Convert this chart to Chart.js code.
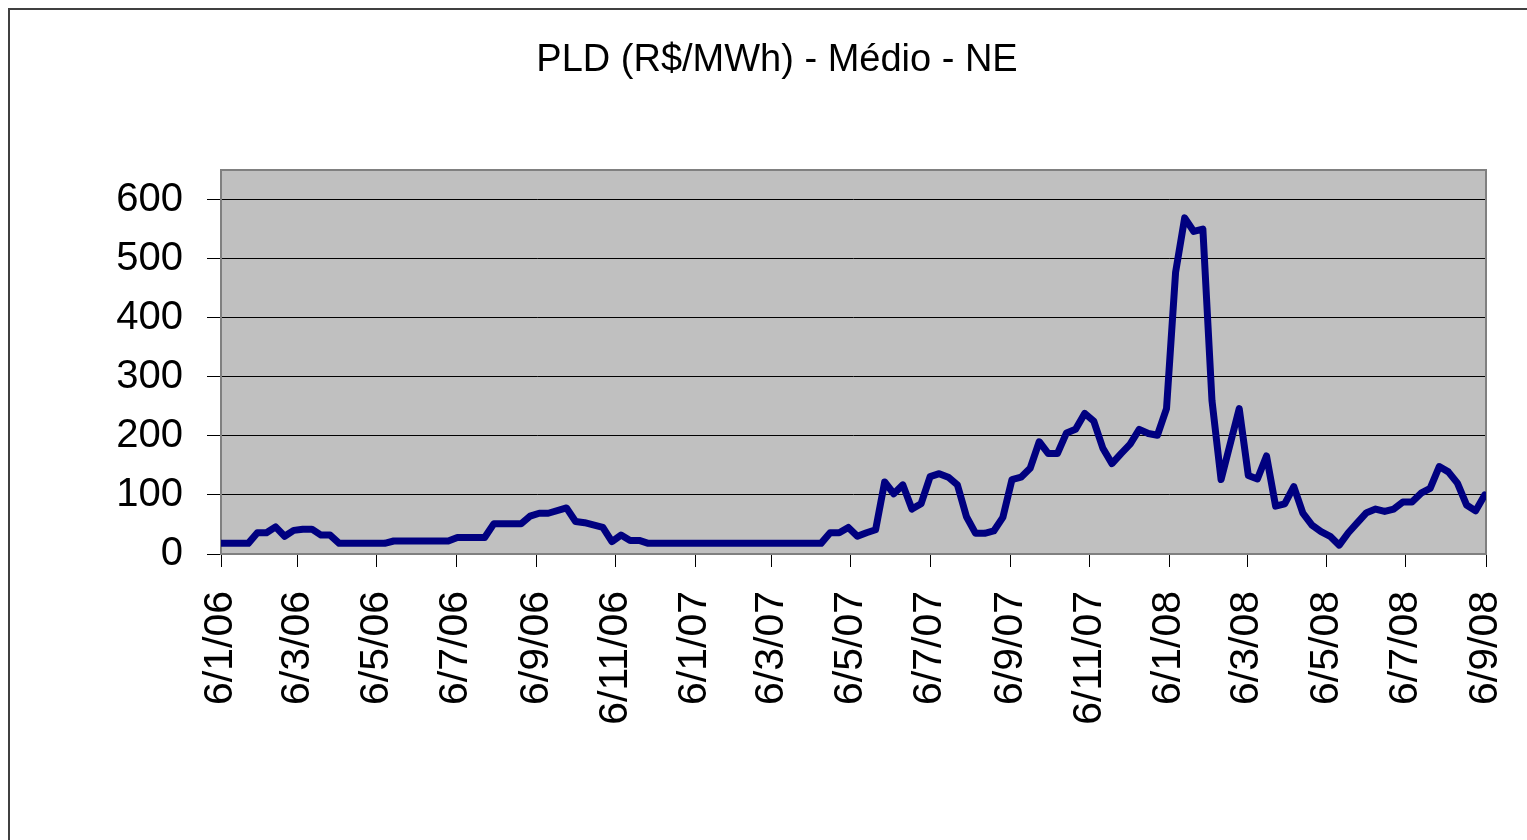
<!DOCTYPE html>
<html>
<head>
<meta charset="utf-8">
<title>PLD - Médio - NE</title>
<script src="https://cdn.jsdelivr.net/npm/chart.js@4/dist/chart.umd.min.js"></script>
<style>
    html, body { margin: 0; padding: 0; background: #fff; overflow: hidden; }
    #frame { position: absolute; left: 8px; top: 8px; width: 1600px; height: 900px; border: 2px solid #404040; }
    #chart { position: absolute; left: 0; top: 0; }
</style>
</head>
<body>
<div id="frame"></div>
<canvas id="chart" width="1527" height="840"></canvas>
<script>
// weekly PLD readings (vertices of the line), R$/MWh
const dates = [
    '2006-01-06', '2006-01-27', '2006-02-03', '2006-02-10', '2006-02-17', '2006-02-24',
    '2006-03-03', '2006-03-10', '2006-03-17', '2006-03-24', '2006-03-31', '2006-04-07',
    '2006-05-12', '2006-05-19', '2006-06-30', '2006-07-07', '2006-07-28', '2006-08-04',
    '2006-08-25', '2006-09-01', '2006-09-08', '2006-09-15', '2006-09-29', '2006-10-06',
    '2006-10-13', '2006-10-27', '2006-11-03', '2006-11-10', '2006-11-17', '2006-11-24',
    '2006-12-01', '2007-04-13', '2007-04-20', '2007-04-27', '2007-05-04', '2007-05-11',
    '2007-05-18', '2007-05-25', '2007-06-01', '2007-06-08', '2007-06-15', '2007-06-22',
    '2007-06-29', '2007-07-06', '2007-07-13', '2007-07-20', '2007-07-27', '2007-08-03',
    '2007-08-10', '2007-08-17', '2007-08-24', '2007-08-31', '2007-09-07', '2007-09-14',
    '2007-09-21', '2007-09-28', '2007-10-05', '2007-10-12', '2007-10-19', '2007-10-26',
    '2007-11-02', '2007-11-09', '2007-11-16', '2007-11-23', '2007-11-30', '2007-12-07',
    '2007-12-14', '2007-12-21', '2007-12-28', '2008-01-04', '2008-01-11', '2008-01-18',
    '2008-01-25', '2008-02-01', '2008-02-08', '2008-02-15', '2008-02-29', '2008-03-07',
    '2008-03-14', '2008-03-21', '2008-03-28', '2008-04-04', '2008-04-11', '2008-04-18',
    '2008-04-25', '2008-05-02', '2008-05-09', '2008-05-16', '2008-05-23', '2008-05-30',
    '2008-06-06', '2008-06-13', '2008-06-20', '2008-06-27', '2008-07-04', '2008-07-11',
    '2008-07-18', '2008-07-25', '2008-08-01', '2008-08-08', '2008-08-15', '2008-08-22',
    '2008-08-29', '2008-09-05'
];
const pld = [
    18, 18, 36, 36, 46, 30,
    40, 42, 42, 32, 32, 18,
    18, 22, 22, 28, 28, 51,
    51, 64, 69, 69, 78, 55,
    53, 45, 21, 32, 23, 23,
    18, 18, 36, 36, 45, 30,
    36, 41, 122, 102, 117, 76,
    85, 131, 136, 130, 117, 63,
    35, 35, 39, 62, 126, 130,
    145, 190, 170, 170, 205, 211,
    238, 225, 179, 153, 170, 186,
    211, 204, 201, 246, 477, 569,
    546, 550, 260, 126, 246, 133,
    127, 166, 81, 85, 114, 69,
    49, 38, 30, 15, 36, 53,
    70, 76, 72, 76, 88, 88,
    103, 111, 148, 139, 120, 83,
    73, 100
];

const tickDates = [
    '2006-01-06', '2006-03-06', '2006-05-06', '2006-07-06', '2006-09-06', '2006-11-06',
    '2007-01-06', '2007-03-06', '2007-05-06', '2007-07-06', '2007-09-06', '2007-11-06',
    '2008-01-06', '2008-03-06', '2008-05-06', '2008-07-06', '2008-09-06'
];
const tickLabels = [
    '6/1/06', '6/3/06', '6/5/06', '6/7/06', '6/9/06', '6/11/06',
    '6/1/07', '6/3/07', '6/5/07', '6/7/07', '6/9/07', '6/11/07',
    '6/1/08', '6/3/08', '6/5/08', '6/7/08', '6/9/08'
];
const yTicks = [0, 100, 200, 300, 400, 500, 600];

const ms = d => new Date(d).getTime();
const font = 'Liberation Sans, Arial, sans-serif';

// grey plot area with its frame
const plotArea = {
    id: 'plotArea',
    beforeDraw(chart) {
        const { ctx, chartArea: a } = chart;
        ctx.save();
        ctx.fillStyle = '#c0c0c0';
        ctx.fillRect(a.left, a.top, a.right - a.left, a.bottom - a.top);
        ctx.restore();
    },
    beforeDatasetsDraw(chart) {
        const { ctx, chartArea: a } = chart;
        ctx.save();
        ctx.strokeStyle = '#808080';
        ctx.lineWidth = 2;
        ctx.strokeRect(a.left, a.top, a.right - a.left, a.bottom - a.top);
        ctx.restore();
    }
};

new Chart(document.getElementById('chart'), {
    type: 'line',
    data: {
        datasets: [{
            data: dates.map((d, i) => ({ x: ms(d), y: pld[i] })),
            borderColor: '#000080',
            borderWidth: 7,
            borderJoinStyle: 'round',
            borderCapStyle: 'round',
            pointRadius: 0,
            tension: 0,
            fill: false
        }]
    },
    options: {
        responsive: false,
        animation: false,
        layout: { padding: { left: 68, right: 41, top: 0, bottom: 0 } },
        plugins: {
            legend: { display: false },
            tooltip: { enabled: false },
            title: {
                display: true,
                text: 'PLD (R$/MWh) - Médio - NE',
                color: '#000',
                font: { family: font, size: 38, weight: 'normal' },
                padding: { top: 38, bottom: 86.4 }
            }
        },
        scales: {
            x: {
                type: 'linear',
                min: ms('2006-01-06'),
                max: ms('2008-09-06'),
                afterBuildTicks: s => { s.ticks = tickDates.map(d => ({ value: ms(d) })); },
                afterFit: s => { s.height = 286; s.paddingLeft = 0; s.paddingRight = 0; },
                grid: { drawOnChartArea: false, color: '#000', tickLength: 13 },
                border: { display: false },
                ticks: {
                    autoSkip: false,
                    minRotation: 90,
                    maxRotation: 90,
                    padding: 24,
                    color: '#000',
                    font: { family: font, size: 41 },
                    callback: (v, i) => tickLabels[i]
                }
            },
            y: {
                min: 0,
                max: 650,
                afterBuildTicks: s => { s.ticks = yTicks.map(v => ({ value: v })); },
                afterFit: s => { s.width = 221 - 68; s.paddingTop = 0; s.paddingBottom = 0; },
                grid: { color: '#000', lineWidth: 1, tickLength: 14 },
                border: { display: false },
                ticks: {
                    padding: 24,
                    color: '#000',
                    font: { family: font, size: 40 }
                }
            }
        }
    },
    plugins: [plotArea]
});
</script>
</body>
</html>
